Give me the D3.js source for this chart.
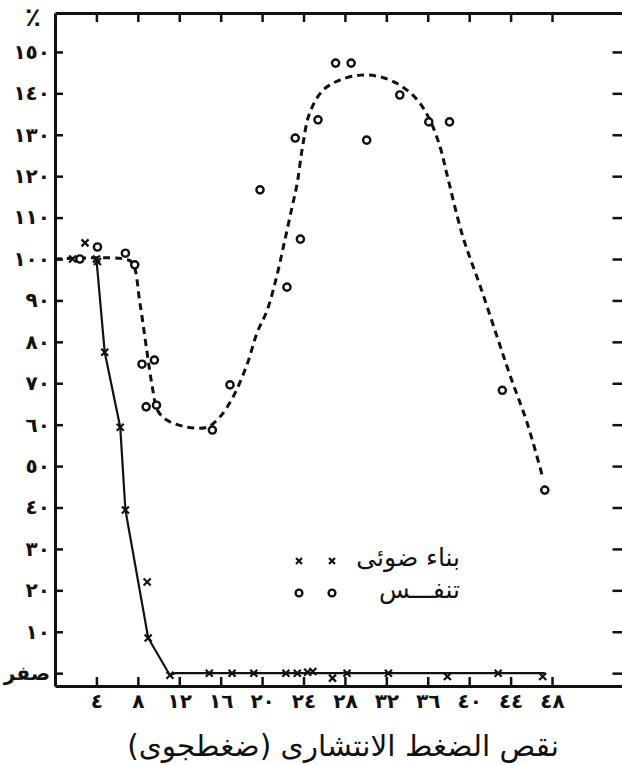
<!DOCTYPE html>
<html>
<head>
<meta charset="utf-8">
<script src="https://cdn.jsdelivr.net/npm/d3@7"></script>
<style>
  body { margin: 0; background: #fff; }
  svg { display: block; }
  text { font-family: "DejaVu Sans", sans-serif; fill: #111; }
</style>
</head>
<body>
<svg id="chart" width="622" height="765"></svg>
<script>
// x: decrease in diffusion pressure (atm), y: percent of control
const xTicks = [4, 8, 12, 16, 20, 24, 28, 32, 36, 40, 44, 48];
const yTicks = [0, 10, 20, 30, 40, 50, 60, 70, 80, 90, 100, 110, 120, 130, 140, 150];

// photosynthesis (x marks)
const photoPoints = [
  [1.7, 100], [2.9, 103.9], [4.0, 100], [4.1, 99.4], [4.8, 77.5], [6.3, 59.4],
  [6.8, 39.4], [8.9, 22.0], [9.0, 8.5], [11.1, -0.5],
  [14.9, 0], [17.1, 0], [19.2, 0], [22.3, 0], [23.4, 0], [24.4, 0.2], [24.9, 0.4],
  [26.8, -1.2], [28.2, 0], [32.2, 0], [37.9, -0.8], [42.8, 0], [47.1, -0.8]
];
// photosynthesis line (solid)
const photoLine = [
  [4.0, 100], [4.8, 77.5], [6.3, 59.4], [6.8, 39.4], [9.0, 8.5], [11.1, -0.5],
  [11.6, 0], [47.3, 0]
];

// respiration (open circles)
const respPoints = [
  [2.4, 100], [4.1, 102.9], [6.8, 101.4], [7.7, 98.6], [8.4, 74.6], [9.6, 75.6],
  [8.8, 64.3], [9.8, 64.7], [15.2, 58.7], [16.9, 69.6], [19.8, 116.7], [22.4, 93.2],
  [23.2, 129.2], [23.7, 104.8], [25.4, 133.6], [27.1, 147.3], [28.6, 147.3],
  [30.1, 128.7], [33.3, 139.6], [36.1, 133.1], [38.1, 133.1], [43.2, 68.3], [47.3, 44.2]
];
// respiration fitted curve (dashed)
const respCurve = [
  [0, 100], [6.8, 100], [7.5, 99], [8.2, 89.4], [8.9, 77.3], [9.4, 69.1], [9.9, 63.5],
  [10.8, 61.1], [12.8, 59.4], [14.7, 59.4], [15.9, 61.8], [17.2, 66.7], [18.6, 74.9],
  [19.5, 82.1], [20.5, 87.7], [21.4, 95.7], [22.2, 104.6], [22.9, 112.6], [23.4, 118.4],
  [23.9, 127], [24.6, 135.3], [25.9, 140.8], [27.5, 143.2], [29.5, 144.4], [31.4, 144],
  [33.3, 142], [35.0, 138.4], [36.2, 133.6], [37.2, 127], [37.8, 121], [39.4, 105.3],
  [41.1, 93.2], [42.7, 81.2], [44.0, 71.5], [45.6, 60.4], [47.1, 47.3]
];

const legendLabels = ["بناء ضوئى", "تنفـــس"];
const xTitle = "نقص الضغط الانتشارى (ضغطجوى)";

const arabicDigits = n => String(n).replace(/\d/g, d => "٠١٢٣٤٥٦٧٨٩"[d]);

const svg = d3.select("#chart");

const x = d3.scaleLinear().domain([0, 55]).range([55, 624.5]);
const y = d3.scaleLinear().domain([-3.1, 159.4]).range([686, 13]);

// axes (frame)
const axLeft = svg.append("g").attr("transform", `translate(${x(0)},0)`)
  .call(d3.axisLeft(y).tickValues(yTicks).tickSize(-8).tickSizeOuter(0).tickPadding(5)
    .tickFormat(d => d === 0 ? "صفر" : arabicDigits(d)));
const axBottom = svg.append("g").attr("transform", `translate(0,${y(-3.1)})`)
  .call(d3.axisBottom(x).tickValues(xTicks).tickSize(-9).tickSizeOuter(0).tickPadding(8)
    .tickFormat(arabicDigits));
const axTop = svg.append("g").attr("transform", `translate(0,${y(159.4)})`)
  .call(d3.axisTop(x).tickValues(xTicks).tickSize(-9).tickSizeOuter(0).tickFormat(""));
const axRight = svg.append("g").attr("transform", `translate(${x(55)},0)`)
  .call(d3.axisRight(y).tickValues(yTicks).tickSize(-12).tickSizeOuter(0).tickFormat(""));

[axLeft, axBottom, axTop, axRight].forEach(g => {
  g.select(".domain").attr("stroke", "#111").attr("stroke-width", 3);
  g.selectAll(".tick line").attr("stroke", "#111").attr("stroke-width", 2.5);
  g.selectAll(".tick text").attr("font-size", 20).attr("font-weight", "bold")
    .attr("font-family", "DejaVu Sans").attr("fill", "#111");
});

// percent sign
svg.append("text").attr("x", 33).attr("y", 26).attr("text-anchor", "middle")
  .attr("font-size", 26).attr("font-weight", "bold").text("٪");

// dashed respiration curve
svg.append("path")
  .datum(respCurve)
  .attr("fill", "none").attr("stroke", "#111").attr("stroke-width", 3)
  .attr("stroke-dasharray", "7,5")
  .attr("d", d3.line().x(d => x(d[0])).y(d => y(d[1])).curve(d3.curveCatmullRom.alpha(0.5)));

// solid photosynthesis line
svg.append("path")
  .datum(photoLine)
  .attr("fill", "none").attr("stroke", "#111").attr("stroke-width", 2.2)
  .attr("d", d3.line().x(d => x(d[0])).y(d => y(d[1])));

const crossPath = s => `M${-s},${-s}L${s},${s}M${-s},${s}L${s},${-s}`;

svg.append("g").selectAll("path")
  .data(photoPoints).join("path")
  .attr("transform", d => `translate(${x(d[0])},${y(d[1])})`)
  .attr("d", crossPath(3.5))
  .attr("stroke", "#111").attr("stroke-width", 2.2).attr("fill", "none");

svg.append("g").selectAll("circle")
  .data(respPoints).join("circle")
  .attr("cx", d => x(d[0])).attr("cy", d => y(d[1])).attr("r", 3.6)
  .attr("fill", "#fff").attr("stroke", "#111").attr("stroke-width", 2.4);

// legend
const legend = svg.append("g");
[0, 1].forEach(i => {
  const ly = 561 + i * 32;
  [299, 332].forEach(lx => {
    if (i === 0) {
      legend.append("path").attr("transform", `translate(${lx},${ly})`)
        .attr("d", crossPath(3)).attr("stroke", "#111").attr("stroke-width", 2.2);
    } else {
      legend.append("circle").attr("cx", lx).attr("cy", ly).attr("r", 3.4)
        .attr("fill", "#fff").attr("stroke", "#111").attr("stroke-width", 2.4);
    }
  });
  legend.append("text").attr("x", 460).attr("y", ly).attr("dy", "0.2em")
    .attr("text-anchor", "end").attr("font-size", 25).text(legendLabels[i]);
});

// x axis title, scaled to span the same width as in the figure
const title = svg.append("text").attr("x", 343).attr("y", 746).attr("dy", "0.35em")
  .attr("text-anchor", "middle").attr("direction", "rtl")
  .attr("font-size", 24).text(xTitle);
const w = title.node().getComputedTextLength();
title.attr("font-size", 24 * 432 / w);
</script>
</body>
</html>
